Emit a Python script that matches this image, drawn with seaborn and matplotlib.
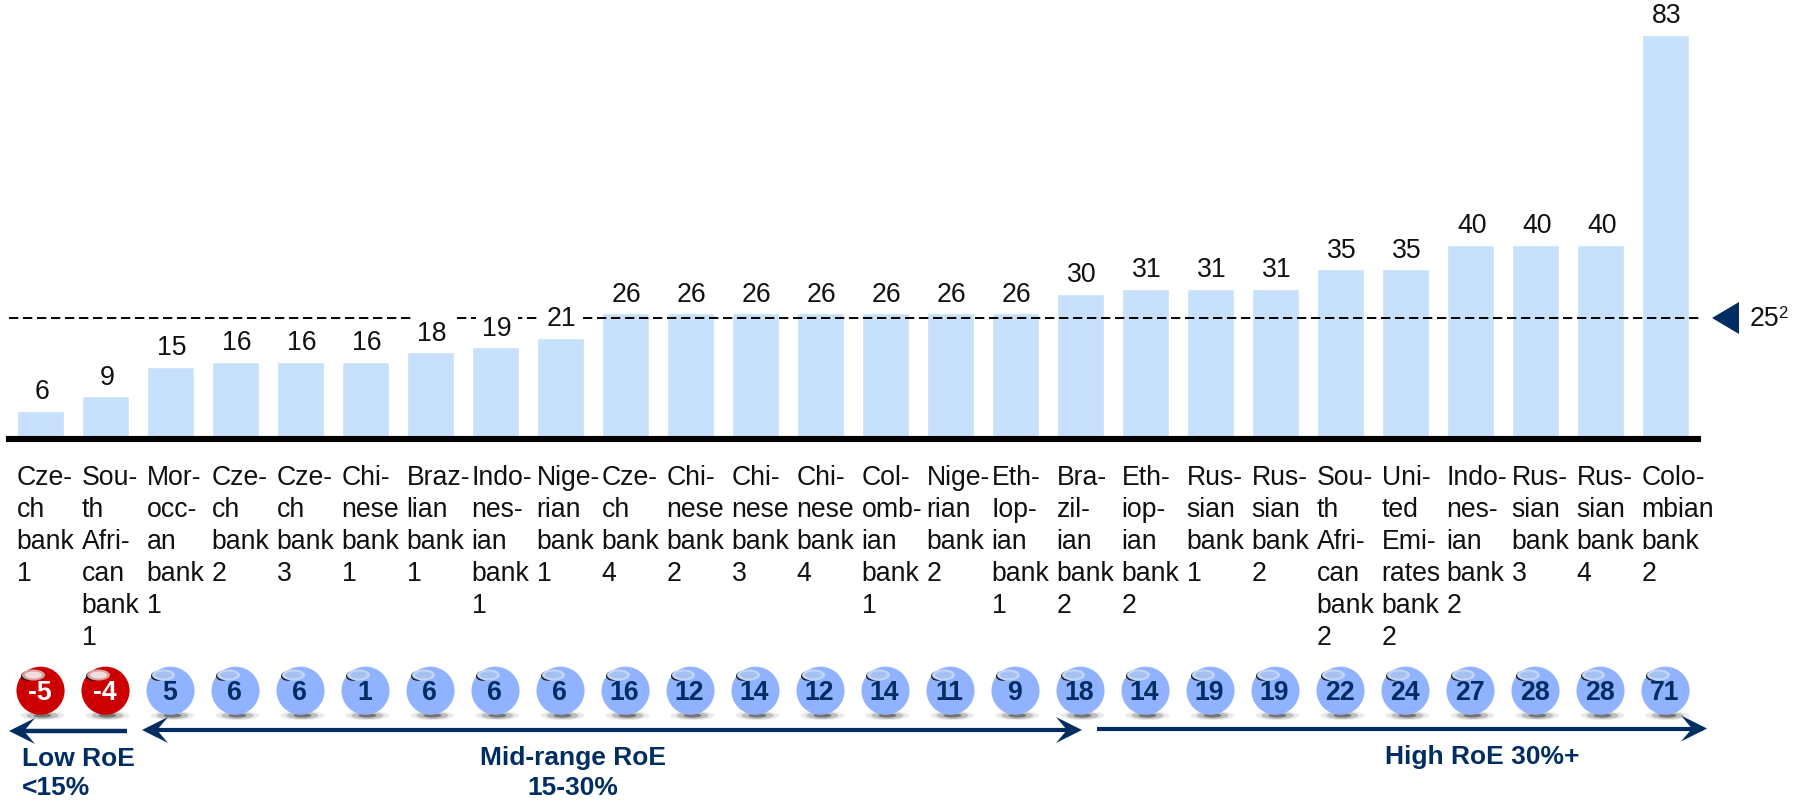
import matplotlib
matplotlib.use("Agg")
import matplotlib.pyplot as plt
from matplotlib.patches import Ellipse, Polygon
from matplotlib.transforms import ScaledTranslation
import pandas as pd
import seaborn as sns

sns.set_theme(style="white")
plt.rcParams["font.family"] = ["Liberation Sans", "DejaVu Sans"]

banks = [
    "Cze-\nch\nbank\n1", "Sou-\nth\nAfri-\ncan\nbank\n1", "Mor-\nocc-\nan\nbank\n1",
    "Cze-\nch\nbank\n2", "Cze-\nch\nbank\n3", "Chi-\nnese\nbank\n1",
    "Braz-\nlian\nbank\n1", "Indo-\nnes-\nian\nbank\n1", "Nige-\nrian\nbank\n1",
    "Cze-\nch\nbank\n4", "Chi-\nnese\nbank\n2", "Chi-\nnese\nbank\n3",
    "Chi-\nnese\nbank\n4", "Col-\nomb-\nian\nbank\n1", "Nige-\nrian\nbank\n2",
    "Eth-\nIop-\nian\nbank\n1", "Bra-\nzil-\nian\nbank\n2", "Eth-\niop-\nian\nbank\n2",
    "Rus-\nsian\nbank\n1", "Rus-\nsian\nbank\n2", "Sou-\nth\nAfri-\ncan\nbank\n2",
    "Uni-\nted\nEmi-\nrates\nbank\n2", "Indo-\nnes-\nian\nbank\n2", "Rus-\nsian\nbank\n3",
    "Rus-\nsian\nbank\n4", "Colo-\nmbian\nbank\n2",
]
bar_values = [6, 9, 15, 16, 16, 16, 18, 19, 21, 26, 26, 26, 26, 26, 26, 26,
              30, 31, 31, 31, 35, 35, 40, 40, 40, 83]
roe_values = [-5, -4, 5, 6, 6, 1, 6, 6, 6, 16, 12, 14, 12, 14, 11, 9,
              18, 14, 19, 19, 22, 24, 27, 28, 28, 71]
reference_level = 25

BAR = "#C7E0FB"
NAVY = "#002D62"
RED = "#CC0000"
BLUE = "#91B2FF"
W, H = 1797, 806
FONT = 19.2
DPI = 100

fig = plt.figure(figsize=(W / DPI, H / DPI), dpi=DPI, facecolor="white")


def px_axes(left, top, right, bottom):
    return fig.add_axes([left / W, 1 - bottom / H, (right - left) / W, (bottom - top) / H])


# Bars with the heavy baseline
ax = px_axes(9, 0, 1698, 439)
df = pd.DataFrame({"bank": banks, "value": bar_values})
sns.barplot(data=df, x="bank", y="value", color=BAR, saturation=1, width=0.71, ax=ax, zorder=1)
ax.set_xlim(-0.485, 25.5)
ax.set_ylim(0.205, 90.16)
ax.set(xlabel="", ylabel="")
ax.set_yticks([])
sns.despine(ax=ax, left=True)
ax.spines["bottom"].set_linewidth(4.4)
ax.spines["bottom"].set_color("black")
ax.patch.set_alpha(0)

ax.hlines(reference_level, -0.485, 25.56, color="black", lw=1.4,
          linestyles=(0, (4.8, 2.4)), zorder=2, clip_on=False)
value_labels = ax.bar_label(ax.containers[0], padding=4, fontsize=FONT, color="#111111", zorder=3,
                            bbox=dict(facecolor="white", edgecolor="none", pad=4.2))
for t in value_labels:
    t.xyann = (t.xyann[0] + 1, t.xyann[1])

ax.tick_params(axis="x", length=0, pad=18.7, labelsize=FONT, labelcolor="#111111")
shift = ScaledTranslation(-24 / DPI, 0, fig.dpi_scale_trans)
for lbl in ax.get_xticklabels():
    lbl.set_ha("left")
    lbl.set_multialignment("left")
    lbl.set_linespacing(1.3)
    lbl.set_transform(lbl.get_transform() + shift)

# Row of RoE spheres, sharing the category positions of the bars
ax2 = px_axes(9, 650, 1698, 730)
ax2.set_xlim(-0.485, 25.5)
ax2.set_ylim(730, 650)
ax2.axis("off")
ax2.patch.set_alpha(0)
unit = 65.0
xs = list(range(len(roe_values)))
for x in xs:
    for w, h, a in [(44, 9, 0.12), (32, 7, 0.30), (18, 4, 0.7)]:
        ax2.add_patch(Ellipse((x + 0.03, 715.5), w / unit, h, color="#555555", alpha=a, lw=0, zorder=1))
spheres = pd.DataFrame({"x": xs, "y": [690.7] * len(xs), "roe": roe_values})
spheres["group"] = ["neg" if v < 0 else "pos" for v in roe_values]
sns.scatterplot(data=spheres, x="x", y="y", hue="group", palette={"neg": RED, "pos": BLUE},
                s=1200, linewidth=0, legend=False, ax=ax2, zorder=2, clip_on=False)
ax2.set(xlabel="", ylabel="")
ax2.set_xlim(-0.485, 25.5)
ax2.set_ylim(730, 650)
for x, v in zip(xs, roe_values):
    neg = v < 0
    # glossy highlight: dark crescent on the left, then a pale cap and core
    ax2.add_patch(Ellipse((x - 13 / unit, 676), 13 / unit, 9.5, color="#1A1A1A", lw=0, zorder=3))
    ax2.add_patch(Ellipse((x - 7 / unit, 675), 23 / unit, 11,
                          color="#D9A0A0" if neg else "#C4D6F8", lw=0, zorder=4))
    ax2.add_patch(Ellipse((x - 7 / unit, 675), 17 / unit, 7,
                          color="#F2DEDE" if neg else "#A4C1F2", lw=0, zorder=5))
    ax2.text(x - 1 / unit, 693.5, str(v), ha="center", va="center", fontsize=FONT, fontweight="bold",
             color="white" if neg else NAVY, zorder=6)

# Pixel-based overlay for arrows, the marker triangle and group captions
ov = px_axes(0, 0, W, H)
ov.set_xlim(0, W)
ov.set_ylim(H, 0)
ov.axis("off")
ov.patch.set_alpha(0)


def head(tip, y, direction):
    ov.add_patch(Polygon([(tip, y), (tip + direction * 26, y - 13),
                          (tip + direction * 15, y), (tip + direction * 26, y + 13)],
                         closed=True, color=NAVY, lw=0, zorder=5))


def arrow(x0, x1, y, lw):
    ov.plot([x0, x1], [y, y], color=NAVY, lw=lw, solid_capstyle="butt", zorder=4)


arrow(14, 127, 731, 3.2)
arrow(146, 1078, 730, 3.0)
arrow(1097, 1703, 728.5, 3.0)
head(9, 731, 1)
head(142, 730, 1)
head(1082, 730, -1)
head(1707, 728.5, -1)

ov.add_patch(Polygon([(1712, 318), (1739, 302), (1739, 334)], closed=True, color=NAVY, lw=0))
ov.text(1750, 319, "25", fontsize=FONT, color="#111111", ha="left", va="center")
ov.text(1778, 314, "2", fontsize=12, color="#111111", ha="left", va="center")

cap = dict(fontsize=19, fontweight="bold", color=NAVY, va="center", linespacing=1.27)
ov.text(22, 773.5, "Low RoE\n<15%", ha="left", **cap)
ov.text(573, 773, "Mid-range RoE\n15-30%", ha="center", multialignment="center", **cap)
ov.text(1482, 757, "High RoE 30%+", ha="center", **cap)

fig.savefig("out.png", dpi=DPI, facecolor="white")
